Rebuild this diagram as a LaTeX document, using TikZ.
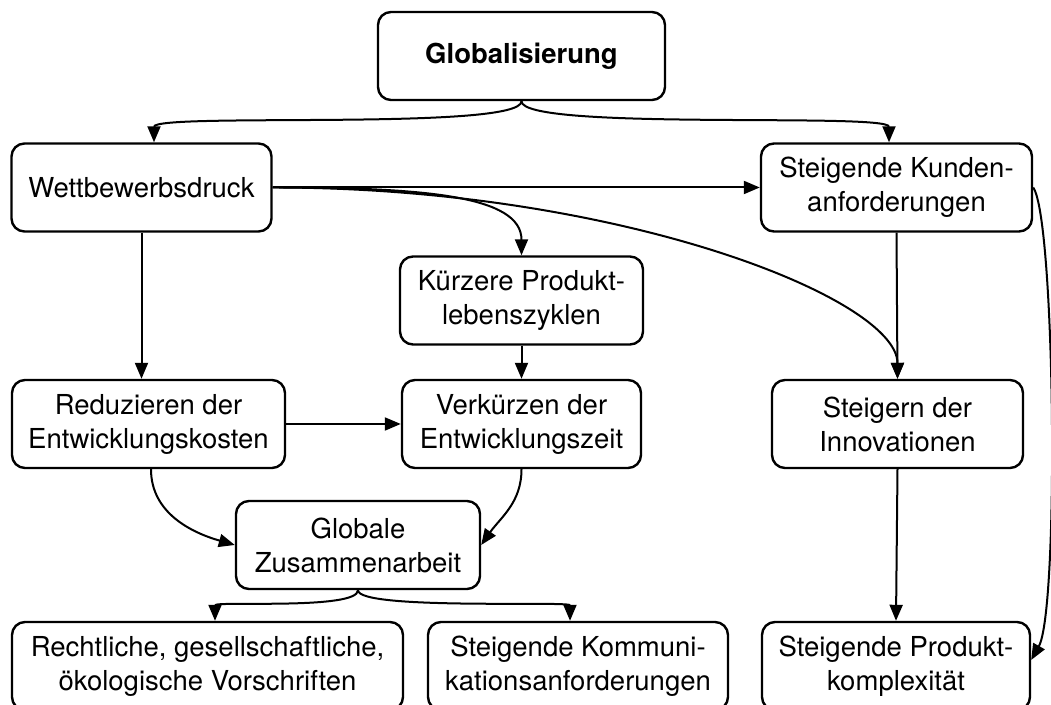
\documentclass[tikz,border=0pt]{standalone}
\usepackage{fontspec}
\setmainfont{TeX Gyre Heros}
\usetikzlibrary{arrows.meta}
\tikzset{
  box/.style={draw,line width=1.2pt,rounded corners=6.5pt,fill=white,align=center,minimum height=44pt,inner sep=2pt,font=\fontsize{13.75}{17}\selectfont},
  link/.style={line width=1pt,-{Triangle[length=8pt,width=6.5pt]}}
}
\begin{document}
\begin{tikzpicture}[x=.5pt,y=.5pt]
\useasboundingbox (0,0) rectangle (1051,705);
\fill[white] (0,0) rectangle (1051,705);
\clip (0,0) rectangle (1051,705);
% boxes
\node[box,minimum width=143.5pt,font=\fontsize{13.75}{17}\selectfont\bfseries] (glob) at (521.5,649) {Globalisierung};
\node[box,minimum width=130pt] (wett) at (141.5,517.5) {Wettbewerbsdruck};
\node[box,minimum width=135.5pt] (kunden) at (896.5,517.5) {Steigende Kunden-\\anforderungen};
\node[box,minimum width=121.5pt] (kurz) at (521.5,404.5) {Kürzere Produkt-\\lebenszyklen};
\node[box,minimum width=136.5pt] (reduz) at (148.5,281) {Reduzieren der\\Entwicklungskosten};
\node[box,minimum width=119.5pt] (verk) at (521.5,281) {Verkürzen der\\Entwicklungszeit};
\node[box,minimum width=125.5pt] (innov) at (897.5,281) {Steigern der\\Innovationen};
\node[box,minimum width=122pt] (zus) at (358,160) {Globale\\Zusammenarbeit};
\node[box,minimum width=195.5pt] (recht) at (207.5,39) {Rechtliche, gesellschaftliche,\\ökologische Vorschriften};
\node[box,minimum width=150pt] (komm) at (578,39) {Steigende Kommuni-\\kationsanforderungen};
\node[box,minimum width=134pt] (prod) at (896,39) {Steigende Produkt-\\komplexität};
% arrows
\draw[link] (glob.south) .. controls +(0,-30) and +(0,30) .. ([xshift=6.25pt]wett.north);
\draw[link] (glob.south) .. controls +(0,-30) and +(0,30) .. ([xshift=-3.75pt]kunden.north);
\draw[link] (wett.east) -- (kunden.west);
\draw[link] (wett.east) .. controls +(150,0) and +(0,60) .. (kurz.north);
\draw[link] (wett.east) .. controls +(348,0) and +(0,80) .. (innov.north);
\draw[link] (wett.south) -- (wett.south |- reduz.north);
\draw[link] (kunden.south) -- (innov.north);
\draw[link] (kurz.south) -- (verk.north);
\draw[link] (reduz.east) -- (verk.west);
\draw[link] ([xshift=1.25pt]reduz.south) to[out=-90,in=164] (zus.west);
\draw[link] (verk.south) to[out=-90,in=55] (zus.east);
\draw[link] (zus.south) .. controls +(0,-20) and +(0,20) .. ([xshift=3.75pt]recht.north);
\draw[link] (zus.south) .. controls +(0,-20) and +(0,20) .. ([xshift=-4pt]komm.north);
\draw[link] (innov.south) -- (prod.north);
\draw[link] (kunden.east) .. controls +(22,-31) and +(28,50) .. ([yshift=3pt]prod.east);
\end{tikzpicture}
\end{document}
